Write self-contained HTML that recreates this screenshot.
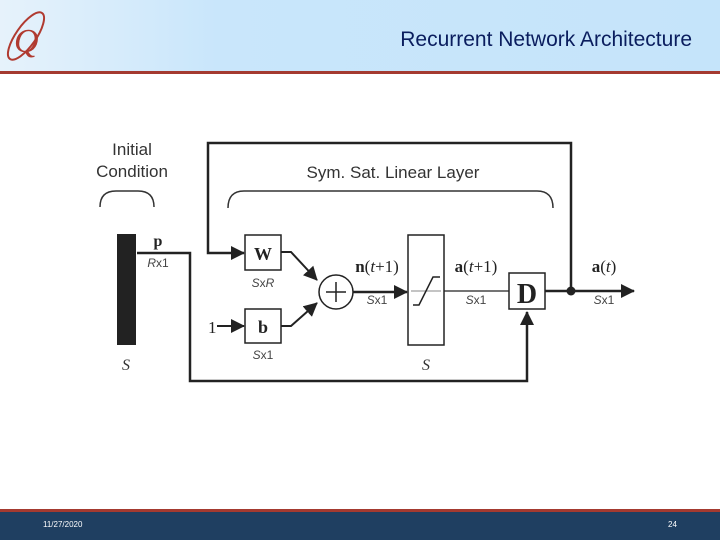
<!DOCTYPE html>
<html><head><style>
body{margin:0;width:720px;height:540px;overflow:hidden;background:#fff;font-family:"Liberation Sans",sans-serif;position:relative}
.hdr{position:absolute;left:0;top:0;width:720px;height:71px;background:linear-gradient(90deg,#e6f2fb 0%,#c9e6fb 30%,#c5e4fa 100%)}
.rl{position:absolute;left:0;top:71px;width:720px;height:3px;background:#a43a30}
.title{position:absolute;right:28px;top:28px;font-size:21px;color:#0a1d5e}
.ft{position:absolute;left:0;top:512px;width:720px;height:28px;background:#1f3f61}
.fl{position:absolute;left:0;top:509px;width:720px;height:3px;background:#a43a30}
.ft span{position:absolute;top:8px;color:#fff;font-size:8px}
</style></head><body>
<div class="hdr"></div><div class="rl"></div>
<div class="title">Recurrent Network Architecture</div>
<svg style="position:absolute;left:0;top:0" width="60" height="72">
<ellipse cx="26" cy="36" rx="10" ry="28" transform="rotate(35 26 36)" fill="none" stroke="#b03a30" stroke-width="2"/>
<text x="14" y="52" font-family="Liberation Serif" font-style="italic" font-size="34" fill="#b03a30">Q</text>
</svg>
<svg style="position:absolute;left:0;top:0" width="720" height="540" font-family="Liberation Sans">
<defs><marker id="a" markerWidth="8" markerHeight="8" refX="7" refY="4" orient="auto" markerUnits="userSpaceOnUse"><path d="M0,0L8,4L0,8z" fill="#222"/></marker>
<marker id="b" markerWidth="14" markerHeight="14" refX="13" refY="7" orient="auto" markerUnits="userSpaceOnUse"><path d="M0,0L14,7L0,14z" fill="#222"/></marker></defs>
<text x="132" y="155" font-size="17" fill="#333" text-anchor="middle">Initial</text>
<text x="132" y="177" font-size="17" fill="#333" text-anchor="middle">Condition</text>
<path d="M100,207 Q100,191 116,191 L138,191 Q154,191 154,207" fill="none" stroke="#333" stroke-width="1.5"/>
<text x="393" y="178" font-size="17" fill="#333" text-anchor="middle">Sym. Sat. Linear Layer</text>
<path d="M228,208 Q228,191 244,191 L537,191 Q553,191 553,208" fill="none" stroke="#333" stroke-width="1.5"/>
<rect x="117" y="234" width="19" height="111" fill="#222"/>
<text x="126" y="370" font-family="Liberation Serif" font-style="italic" font-size="16" fill="#333" text-anchor="middle">S</text>
<text x="158" y="246" font-family="Liberation Serif" font-weight="bold" font-size="16" fill="#222" text-anchor="middle">p</text>
<text x="158" y="267" font-size="12" fill="#444" text-anchor="middle"><tspan font-style="italic">R</tspan>x1</text>
<path d="M137,253 H190 V381 H527 V312" fill="none" stroke="#222" stroke-width="2.5" marker-end="url(#b)"/>
<path d="M571,291 V143 H208 V253 H244" fill="none" stroke="#222" stroke-width="2.5" marker-end="url(#b)"/>
<rect x="245" y="235" width="36" height="35" fill="#fff" stroke="#222" stroke-width="1.5"/>
<text x="263" y="260" font-family="Liberation Serif" font-weight="bold" font-size="18" fill="#222" text-anchor="middle">W</text>
<text x="263" y="287" font-size="12" fill="#444" text-anchor="middle" font-style="italic">S<tspan font-style="normal">x</tspan>R</text>
<rect x="245" y="309" width="36" height="34" fill="#fff" stroke="#222" stroke-width="1.5"/>
<text x="263" y="333" font-family="Liberation Serif" font-weight="bold" font-size="18" fill="#222" text-anchor="middle">b</text>
<text x="263" y="359" font-size="12" fill="#444" text-anchor="middle"><tspan font-style="italic">S</tspan>x1</text>
<text x="208" y="333" font-family="Liberation Serif" font-size="17" fill="#222">1</text>
<path d="M217,326 H244" stroke="#222" stroke-width="2" marker-end="url(#b)"/>
<path d="M281,252 L291,252 L317,280" fill="none" stroke="#222" stroke-width="2" marker-end="url(#b)"/>
<path d="M281,326 L291,326 L317,303" fill="none" stroke="#222" stroke-width="2" marker-end="url(#b)"/>
<circle cx="336" cy="292" r="17" fill="#fff" stroke="#222" stroke-width="1.5"/>
<path d="M326,292H346M336,282V302" stroke="#222" stroke-width="1.5"/>
<path d="M353,292 H407" stroke="#222" stroke-width="2.5" marker-end="url(#b)"/>
<text x="377" y="272" font-family="Liberation Serif" font-size="17" fill="#222" text-anchor="middle"><tspan font-weight="bold">n</tspan>(<tspan font-style="italic">t</tspan>+1)</text>
<text x="377" y="304" font-size="12" fill="#444" text-anchor="middle"><tspan font-style="italic">S</tspan>x1</text>
<rect x="408" y="235" width="36" height="110" fill="#fff" stroke="#222" stroke-width="1.5"/>
<path d="M411,291H441" stroke="#888" stroke-width="1"/>
<path d="M413,305 L419,305 L433,277 L440,277" fill="none" stroke="#222" stroke-width="1.5"/>
<text x="426" y="370" font-family="Liberation Serif" font-style="italic" font-size="16" fill="#333" text-anchor="middle">S</text>
<path d="M444,291 H509" stroke="#222" stroke-width="1.2"/>
<text x="476" y="272" font-family="Liberation Serif" font-size="17" fill="#222" text-anchor="middle"><tspan font-weight="bold">a</tspan>(<tspan font-style="italic">t</tspan>+1)</text>
<text x="476" y="304" font-size="12" fill="#444" text-anchor="middle"><tspan font-style="italic">S</tspan>x1</text>
<rect x="509" y="273" width="36" height="36" fill="#fff" stroke="#222" stroke-width="1.5"/>
<text x="527" y="303" font-family="Liberation Serif" font-weight="bold" font-size="28" fill="#222" text-anchor="middle">D</text>
<path d="M545,291 H634" stroke="#222" stroke-width="2.5" marker-end="url(#b)"/>
<circle cx="571" cy="291" r="4.5" fill="#222"/>
<text x="604" y="272" font-family="Liberation Serif" font-size="17" fill="#222" text-anchor="middle"><tspan font-weight="bold">a</tspan>(<tspan font-style="italic">t</tspan>)</text>
<text x="604" y="304" font-size="12" fill="#444" text-anchor="middle"><tspan font-style="italic">S</tspan>x1</text>
</svg>
<div class="fl"></div><div class="ft"><span style="left:43px">11/27/2020</span><span style="left:668px">24</span></div>
</body></html>
